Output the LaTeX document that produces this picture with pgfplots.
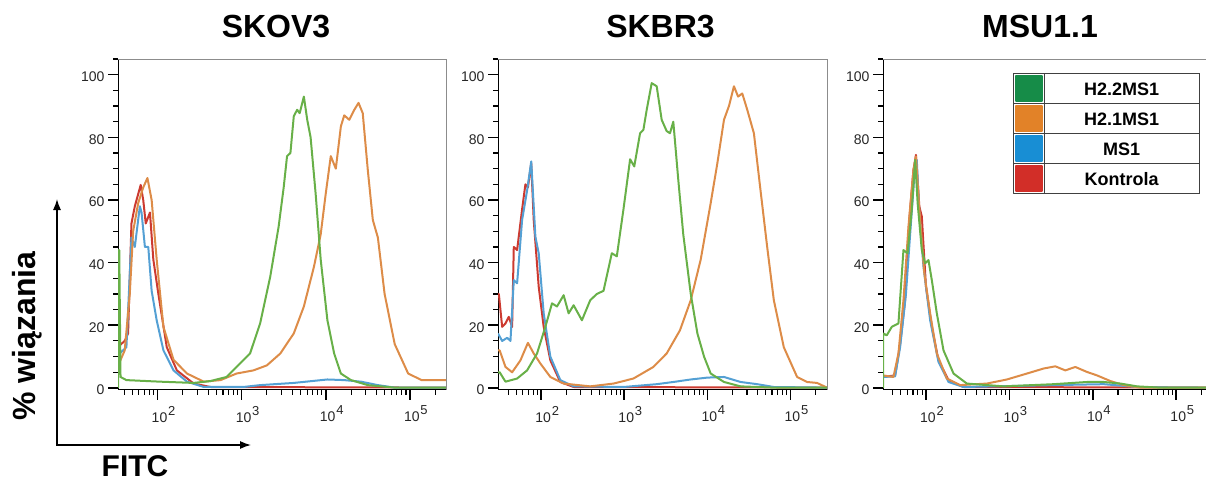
\documentclass[border=0pt]{standalone}
\usepackage{pgfplots}
\pgfplotsset{compat=1.18}
\usepackage{fontspec}
\setmainfont{Liberation Sans}
\usetikzlibrary{arrows.meta}
\definecolor{cGreen}{RGB}{104,176,72}
\definecolor{cOrange}{RGB}{221,140,72}
\definecolor{cBlue}{RGB}{84,160,212}
\definecolor{cRed}{RGB}{204,58,48}
\definecolor{lGreen}{RGB}{22,140,72}
\definecolor{lOrange}{RGB}{226,130,40}
\definecolor{lBlue}{RGB}{24,142,212}
\definecolor{lRed}{RGB}{210,46,40}
\newcommand{\ex}[1]{10\kern0.8bp\raisebox{7bp}{\fontsize{13bp}{13bp}\selectfont #1}}
\pgfplotsset{
  flow/.style={
    scale only axis, height=330.5bp, ymin=-0.5, ymax=105,
    axis lines*=left, axis line style={black, line width=1bp},
    tick align=outside, major tick length=10bp, minor tick length=5bp,
    tick style={black},
    every major tick/.append style={line width=1.6bp},
    every minor tick/.append style={line width=1.1bp},
    ytick={0,20,...,100}, minor ytick={0,5,...,105},
    xtick={2,3,4,5}, xticklabels={\ex{2},\ex{3},\ex{4},\ex{5}},
    minor xtick={1.602,1.699,1.778,1.845,1.903,1.954,2.301,2.477,2.602,2.699,2.778,2.845,2.903,2.954,3.301,3.477,3.602,3.699,3.778,3.845,3.903,3.954,4.301,4.477,4.602,4.699,4.778,4.845,4.903,4.954,5.301},
    /pgf/number format/assume math mode=true,
    tick label style={font=\fontsize{14bp}{16bp}\selectfont, text=black!85},
    xticklabel style={xshift=6bp, yshift=-3bp},
    yticklabel style={yshift=-2bp},
    after end axis/.code={\draw[black!45, line width=1bp] (rel axis cs:0,1) -- (rel axis cs:1,1) -- (rel axis cs:1,0);},
    every axis plot/.append style={line width=2bp, line join=round},
    every axis title/.style={at={(0.5,1)}, anchor=base, yshift=21bp, font=\bfseries\fontsize{32bp}{36bp}\selectfont},
  },
  swatch/.style={legend image code/.code={
    \draw[draw=black!75, line width=1.2bp] (0bp,-15bp) rectangle (31bp,15bp);
    \fill[#1] (2.5bp,-12.5bp) rectangle (28.5bp,12.5bp);}},
}
\begin{document}
\begin{tikzpicture}
% ---------------- SKOV3 ----------------
\begin{axis}[flow, at={(118bp,-389.5bp)}, anchor=south west, width=328bp,
  xmin=1.53, xmax=5.43, title={SKOV3}, every axis title/.append style={xshift=-6bp}]
\addplot[cRed] coordinates {(1.53,13)(1.55,13.6)(1.61,15)(1.65,17.4)(1.69,52.5)(1.73,58)(1.80,64.8)(1.83,60)(1.86,52.5)(1.91,56)(1.95,41)(2.01,30)(2.11,13)(2.23,5.6)(2.43,1.4)(2.63,0.3)(5.43,0.1)};
\addplot[cBlue] coordinates {(1.53,10)(1.55,11)(1.63,13)(1.69,48)(1.73,45)(1.79,58)(1.81,56)(1.85,45)(1.89,45)(1.93,31)(1.99,21.6)(2.07,12)(2.19,5.6)(2.35,2)(2.55,0.3)(3.02,0.3)(3.22,0.9)(3.62,1.6)(4.02,2.7)(4.22,2.5)(4.42,2)(4.62,0.9)(4.82,0.1)(5.43,0.1)};
\addplot[cOrange] coordinates {(1.53,8)(1.55,8.3)(1.61,12)(1.67,30)(1.71,50)(1.77,59)(1.83,64)(1.88,67)(1.93,60)(1.99,41)(2.07,19.5)(2.19,9)(2.35,4.6)(2.55,2)(2.75,2.5)(2.94,4.6)(3.14,5.6)(3.30,7.2)(3.46,11)(3.62,17.4)(3.74,26)(3.86,38.7)(3.94,49)(4.00,62)(4.06,74)(4.12,70)(4.18,83.5)(4.22,87)(4.28,85.6)(4.34,88.8)(4.39,91)(4.44,87.7)(4.50,69.6)(4.56,53.6)(4.62,48)(4.70,30)(4.82,14)(4.98,4.6)(5.14,2.5)(5.43,2.5)};
\addplot[cGreen] coordinates {(1.53,0)(1.535,44)(1.545,44)(1.56,3.5)(1.63,2.5)(2.03,2)(2.43,1.6)(2.63,2.2)(2.82,3.5)(2.98,7.8)(3.10,11)(3.22,20.6)(3.34,35.5)(3.44,51.5)(3.50,64)(3.54,74)(3.58,75)(3.62,86.7)(3.66,88.8)(3.69,87.7)(3.74,93)(3.78,85.6)(3.82,80)(3.88,62)(3.94,41)(4.02,21.6)(4.10,11)(4.18,4.6)(4.30,2.5)(4.50,0.9)(4.82,0.1)(5.43,0.1)};
\end{axis}
% ---------------- SKBR3 ----------------
\begin{axis}[flow, at={(498bp,-389.5bp)}, anchor=south west, width=329bp,
  xmin=1.48, xmax=5.44, title={SKBR3}, every axis title/.append style={xshift=-2bp}]
\addplot[cRed] coordinates {(1.48,30)(1.49,30)(1.53,19.5)(1.57,20.6)(1.61,22.7)(1.65,19.5)(1.67,45)(1.71,44)(1.77,57)(1.81,65)(1.84,64)(1.88,71.7)(1.91,53.6)(1.97,32.3)(2.03,19.5)(2.11,8.8)(2.23,1.9)(2.39,0.3)(5.44,0.1)};
\addplot[cBlue] coordinates {(1.48,17.4)(1.53,15)(1.59,16)(1.63,15)(1.67,34.4)(1.71,33.4)(1.77,53.6)(1.83,63)(1.88,72.3)(1.93,48.3)(1.97,43)(2.03,23.8)(2.11,10)(2.23,2.5)(2.39,0.5)(2.99,0.3)(3.39,1.2)(3.59,1.9)(3.80,2.7)(4.00,3.3)(4.20,3.5)(4.40,1.9)(4.60,1.2)(4.80,0.3)(5.44,0.1)};
\addplot[cOrange] coordinates {(1.48,12)(1.50,12)(1.57,6.7)(1.65,5)(1.75,8.8)(1.84,14.4)(1.91,11)(1.99,7.8)(2.11,3.5)(2.27,1.4)(2.59,0.5)(2.87,1.4)(3.11,3)(3.35,6.7)(3.51,11)(3.67,18.4)(3.80,28)(3.92,41)(4.04,59)(4.12,71.7)(4.20,85.6)(4.26,90)(4.32,96.3)(4.37,93)(4.42,94)(4.48,88.8)(4.56,81.3)(4.64,63)(4.72,45)(4.80,28)(4.92,13)(5.08,3.5)(5.20,1.9)(5.32,1.6)(5.44,0.1)};
\addplot[cGreen] coordinates {(1.48,5)(1.50,5)(1.57,2)(1.71,3)(1.83,5.6)(1.95,11)(2.05,19.5)(2.13,27)(2.19,26)(2.27,29.6)(2.33,23.8)(2.39,26.4)(2.49,21.6)(2.59,28)(2.67,30)(2.75,31)(2.85,43)(2.91,42)(2.99,57)(3.07,73)(3.12,70.7)(3.19,81.3)(3.23,82.4)(3.27,88.8)(3.33,97.3)(3.39,96.3)(3.45,85.6)(3.51,82)(3.55,81.3)(3.59,85)(3.65,66.4)(3.71,49)(3.80,30)(3.88,17.4)(3.96,10)(4.04,4.6)(4.20,1.9)(4.40,0.5)(4.80,0.1)(5.44,0.1)};
\end{axis}
% ---------------- MSU1.1 ----------------
\begin{axis}[flow, at={(883bp,-389.5bp)}, anchor=south west, width=330bp,
  xmin=1.485, xmax=5.44, title={MSU1.1}, every axis title/.append style={xshift=-8bp},
  legend style={at={(0.9606,0.9576)}, anchor=north east, draw=none, fill=white,
    inner sep=0pt, row sep=-1.2bp, column sep=-1.2bp,
    nodes={draw=black!75, line width=1.2bp, minimum width=155bp, minimum height=30bp,
      inner sep=0pt, text depth=0pt, font=\bfseries\fontsize{18bp}{20bp}\selectfont, anchor=center}}]
\addlegendimage{swatch=lGreen}\addlegendentry{H2.2MS1}
\addlegendimage{swatch=lOrange}\addlegendentry{H2.1MS1}
\addlegendimage{swatch=lBlue}\addlegendentry{MS1}
\addlegendimage{swatch=lRed}\addlegendentry{Kontrola}
\addplot[cRed, forget plot] coordinates {(1.485,3.5)(1.63,4)(1.69,14)(1.75,28)(1.80,53.6)(1.85,69.6)(1.88,74.4)(1.92,58)(1.95,54.7)(2.00,32.3)(2.07,19.5)(2.15,8.8)(2.27,2.5)(2.45,0.3)(5.44,0.1)};
\addplot[cBlue, forget plot] coordinates {(1.485,3.5)(1.63,3.7)(1.69,13)(1.76,30)(1.81,49)(1.86,67.5)(1.89,72.8)(1.92,55.8)(1.97,38.7)(2.05,21.6)(2.15,8.3)(2.27,1.9)(2.45,0.3)(3.53,0.9)(4.13,1.2)(4.53,0.3)(5.44,0.1)};
\addplot[cOrange, forget plot] coordinates {(1.485,4)(1.61,3.5)(1.67,11)(1.73,28)(1.79,51.5)(1.85,69.6)(1.88,73.9)(1.92,57)(1.98,36.6)(2.05,23.8)(2.13,11)(2.25,3)(2.41,0.9)(2.73,1.4)(2.97,2.7)(3.21,4.6)(3.41,6.2)(3.55,6.9)(3.67,5.6)(3.79,6.7)(3.93,5.1)(4.05,4)(4.21,2.2)(4.37,0.9)(4.57,0.1)(5.44,0.1)};
\addplot[cGreen, forget plot] coordinates {(1.485,0)(1.488,17.4)(1.53,16.8)(1.59,19.5)(1.67,20.6)(1.73,44)(1.78,43)(1.83,57)(1.87,72.8)(1.90,59)(1.95,44)(1.99,39.8)(2.03,40.8)(2.07,34.4)(2.13,23.8)(2.21,12)(2.33,4.6)(2.49,1.4)(2.93,0.5)(3.53,1.2)(3.93,1.9)(4.13,1.9)(4.33,1.4)(4.53,0.5)(4.80,0.1)(5.44,0.1)};
\end{axis}
% ---------------- outer labels ----------------
\draw[black, line width=1.3bp, -{Latex[length=11bp,width=8bp]}] (57bp,-445bp) -- (57bp,-199bp);
\draw[black, line width=1.3bp, -{Latex[length=11bp,width=8bp]}] (56.35bp,-445bp) -- (251bp,-445bp);
\node[rotate=90, anchor=base, font=\bfseries\fontsize{32bp}{36bp}\selectfont] at (35bp,-336bp) {\% wiązania};
\node[anchor=base, inner sep=0pt, font=\bfseries\fontsize{30bp}{34bp}\selectfont] at (135bp,-476bp) {FITC};
\pgfresetboundingbox
\path[use as bounding box] (0,0) rectangle (1206bp,-481bp);
\end{tikzpicture}
\end{document}
